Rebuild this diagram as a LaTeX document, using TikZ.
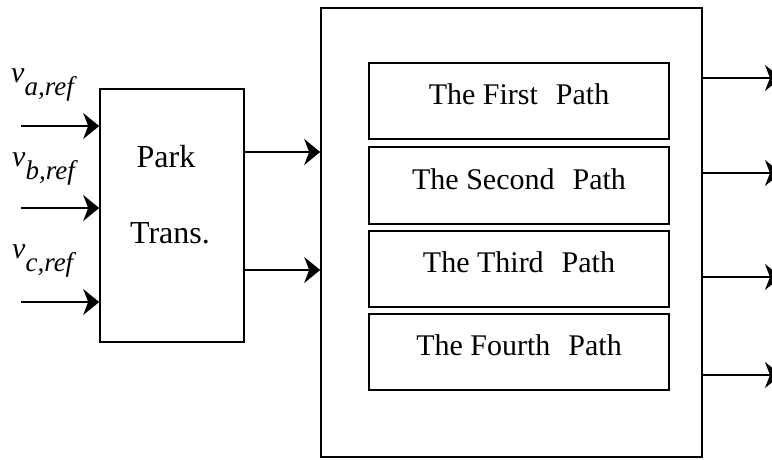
\documentclass[tikz,border=0pt]{standalone}
\usepackage{fontspec}
\setmainfont{Liberation Serif}
\usetikzlibrary{arrows.meta}
\tikzset{%
    my block/.style={%
        draw,
        line width=1.6pt,
        inner sep=0pt
    },
    my path/.style={%
        my block,
        minimum width=300pt,
        minimum height=76pt,
        text height=0.74em,
        text depth=0em,
        font=\fontsize{30}{34}\selectfont
    },
    my text/.style={%
        inner sep=0pt,
        font=\fontsize{30}{34}\selectfont
    },
    my arrow/.style={%
        line width=1.6pt,
        -{Stealth[length=16pt, width=26pt, inset=5pt]}
    }%
}
\newcommand{\vrefsig}[1]{\textit{v}\raisebox{-13pt}{\fontsize{27}{30}\selectfont\textit{#1,ref}}}

\begin{document}
\begin{tikzpicture}[x=1pt, y=-1pt]
\useasboundingbox (0,0) rectangle (772,459);

\node[my block, minimum width=144pt, minimum height=253pt] (park) at (172,215.5) {};
\node[my text, anchor=base, font=\fontsize{32}{36}\selectfont] (parkA) at (166,167) {Park};
\node[my text, anchor=base, font=\fontsize{32}{36}\selectfont] (parkB) at (170,243) {Trans.};

\node[my block, minimum width=381pt, minimum height=449pt] (main) at (511.5,232.5) {};
\node[my path] (path1) at (519,101) {The First\hspace{0.6em}Path};
\node[my path, minimum height=77pt] (path2) at (519,185.5) {The Second\hspace{0.6em}Path};
\node[my path] (path3) at (519,269) {The Third\hspace{0.6em}Path};
\node[my path] (path4) at (519,352) {The Fourth\hspace{0.6em}Path};

% inputs
\node[my text, anchor=base west] (va) at (11,82) {\vrefsig{a}};
\node[my text, anchor=base west] (vb) at (12,166) {\vrefsig{b}};
\node[my text, anchor=base west] (vc) at (12,258) {\vrefsig{c}};
\coordinate (ina) at (21,126);
\coordinate (inb) at (21,208);
\coordinate (inc) at (21,302);
\foreach \s in {ina, inb, inc}
    \draw[my arrow] (\s) -- (\s -| park.west);

% park to paths
\coordinate (pd) at (244,152);
\coordinate (pq) at (244,270);
\foreach \s in {pd, pq}
    \draw[my arrow] (\s) -- (\s -| main.west);

% outputs
\coordinate (out1) at (781,78);
\coordinate (out2) at (781,173);
\coordinate (out3) at (781,277);
\coordinate (out4) at (781,375);
\foreach \s in {out1, out2, out3, out4}
    \draw[my arrow] (\s -| main.east) -- (\s);
\end{tikzpicture}
\end{document}
